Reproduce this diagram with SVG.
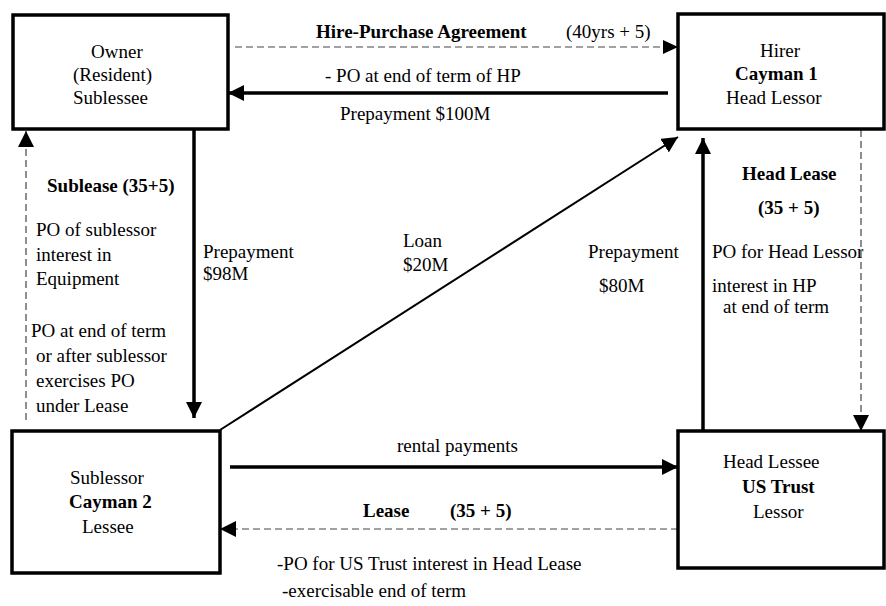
<svg xmlns="http://www.w3.org/2000/svg" width="886" height="606" viewBox="0 0 886 606">
<style>
text{font-family:'Liberation Serif','Times New Roman',Times,'DejaVu Serif',serif;font-size:19px;fill:#000}
.b{font-weight:bold}
.box{fill:#fff;stroke:#000;stroke-width:3.5}
.thick{stroke:#000;stroke-width:3.5;fill:none}
.thin{stroke:#000;stroke-width:2;fill:none}
.dash{stroke:#444;stroke-width:1.2;stroke-dasharray:7 4;fill:none}
</style>
<defs>
<marker id="ah" markerUnits="userSpaceOnUse" markerWidth="16" markerHeight="16" viewBox="0 0 16 16" refX="16" refY="8" orient="auto">
<path d="M0,0 L16,8 L0,16 Z" fill="#000"/>
</marker>
<marker id="ahs" markerUnits="userSpaceOnUse" markerWidth="15" markerHeight="14" viewBox="0 0 15 14" refX="15" refY="7" orient="auto">
<path d="M0,0 L15,7 L0,14 Z" fill="#000"/>
</marker>
</defs>
<g id="connectors" font-family="Liberation Serif, serif">
<line class="dash" x1="235" y1="47" x2="678" y2="47" marker-end="url(#ahs)"/>
<line class="thick" x1="668" y1="93" x2="228" y2="93" marker-end="url(#ah)"/>
<line class="thick" x1="194" y1="129" x2="194" y2="418" marker-end="url(#ah)"/>
<line class="dash" x1="26" y1="420" x2="26" y2="131" marker-end="url(#ah)"/>
<line class="thin" x1="220" y1="430" x2="678" y2="137" marker-end="url(#ah)"/>
<line class="thick" x1="703" y1="431" x2="703" y2="138" marker-end="url(#ah)"/>
<line class="dash" x1="861" y1="130" x2="861" y2="431" marker-end="url(#ah)"/>
<line class="thick" x1="230" y1="467" x2="678" y2="467" marker-end="url(#ah)"/>
<line class="dash" x1="678" y1="529" x2="220" y2="529" marker-end="url(#ah)"/>
<text class="b" x="316" y="38">Hire-Purchase Agreement</text>
<text x="566" y="38">(40yrs + 5)</text>
<text x="325" y="82">- PO at end of term of HP</text>
<text x="340" y="120">Prepayment $100M</text>
<text class="b" x="47" y="192">Sublease (35+5)</text>
<text x="36" y="236">PO of sublessor</text>
<text x="36" y="261">interest in</text>
<text x="36" y="285">Equipment</text>
<text x="31" y="337">PO at end of term</text>
<text x="36" y="362">or after sublessor</text>
<text x="36" y="387">exercises PO</text>
<text x="36" y="412">under Lease</text>
<text x="203" y="258">Prepayment</text>
<text x="203" y="280">$98M</text>
<text x="403" y="247">Loan</text>
<text x="403" y="271">$20M</text>
<text x="588" y="258">Prepayment</text>
<text x="599" y="292">$80M</text>
<text class="b" x="742" y="180">Head Lease</text>
<text class="b" x="758" y="214">(35 + 5)</text>
<text x="712" y="258">PO for Head Lessor</text>
<text x="712" y="292">interest in HP</text>
<text x="723" y="313">at end of term</text>
<text x="397" y="452">rental payments</text>
<text class="b" x="363" y="517">Lease</text>
<text class="b" x="450" y="517">(35 + 5)</text>
<text x="277" y="570">-PO for US Trust interest in Head Lease</text>
<text x="282" y="597">-exercisable end of term</text>
</g>
<g id="owner">
<rect class="box" x="13" y="15" width="215" height="114"/>
<text x="91" y="58">Owner</text>
<text x="73" y="81">(Resident)</text>
<text x="73" y="104">Sublessee</text>
</g>
<g id="hirer">
<rect class="box" x="678" y="14" width="206" height="115"/>
<text x="760" y="57">Hirer</text>
<text class="b" x="735" y="80">Cayman 1</text>
<text x="726" y="104">Head Lessor</text>
</g>
<g id="sublessor">
<rect class="box" x="12" y="431" width="208" height="142"/>
<text x="70" y="484">Sublessor</text>
<text class="b" x="69" y="508">Cayman 2</text>
<text x="82" y="533">Lessee</text>
</g>
<g id="ustrust">
<rect class="box" x="678" y="431" width="206" height="137"/>
<text x="723" y="468">Head Lessee</text>
<text class="b" x="742" y="493">US Trust</text>
<text x="753" y="518">Lessor</text>
</g>
</svg>
